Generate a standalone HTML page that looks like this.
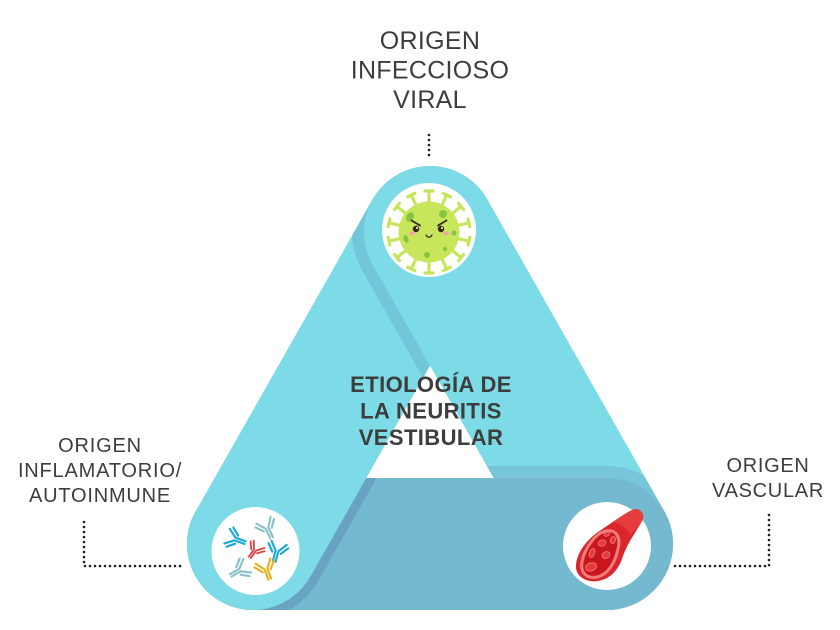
<!DOCTYPE html>
<html>
<head>
<meta charset="utf-8">
<style>
  html,body{margin:0;padding:0;background:#ffffff;}
  svg{display:block;}
</style>
</head>
<body>
<svg width="840" height="630" viewBox="0 0 840 630" xmlns="http://www.w3.org/2000/svg">
  <defs>
    <clipPath id="cB">
      <rect x="253" y="478" width="354" height="132"/>
      <circle cx="253" cy="544" r="66"/>
      <circle cx="607" cy="544" r="66"/>
    </clipPath>
    <clipPath id="cL">
      <polygon points="310.4,576.6 487.4,264.6 372.6,199.4 195.6,511.4"/>
      <circle cx="430" cy="232" r="66"/>
      <circle cx="253" cy="544" r="66"/>
    </clipPath>
    <clipPath id="cR">
      <polygon points="487.4,199.4 664.4,511.4 549.6,576.6 372.6,264.6"/>
      <circle cx="430" cy="232" r="66"/>
      <circle cx="607" cy="544" r="66"/>
    </clipPath>
    <clipPath id="cRight">
      <rect x="445" y="0" width="400" height="630"/>
    </clipPath>
  </defs>

  <!-- bottom band -->
  <line x1="253" y1="544" x2="607" y2="544" stroke="#74b9d0" stroke-width="132" stroke-linecap="round"/>
  <!-- shadow of left band on bottom band -->
  <g clip-path="url(#cB)">
    <line x1="253" y1="544" x2="430" y2="232" stroke="#6aa2c2" stroke-width="150" stroke-linecap="round"/>
  </g>
  <!-- left band -->
  <line x1="253" y1="544" x2="430" y2="232" stroke="#7ddbe8" stroke-width="132" stroke-linecap="round"/>
  <!-- shadow of right band on left band -->
  <g clip-path="url(#cL)">
    <line x1="430" y1="232" x2="607" y2="544" stroke="#72c6da" stroke-width="156" stroke-linecap="round"/>
  </g>
  <!-- right band -->
  <line x1="430" y1="232" x2="607" y2="544" stroke="#7ddbe8" stroke-width="132" stroke-linecap="round"/>
  <!-- bottom band over right band at bottom-right -->
  <g clip-path="url(#cRight)">
    <g clip-path="url(#cR)">
      <line x1="253" y1="544" x2="607" y2="544" stroke="#78c5d9" stroke-width="156" stroke-linecap="round"/>
    </g>
    <line x1="253" y1="544" x2="607" y2="544" stroke="#74b9d0" stroke-width="132" stroke-linecap="round"/>
  </g>

  <!-- node circles -->
  <circle cx="429" cy="230" r="47" fill="#ffffff"/>
  <circle cx="255.5" cy="551" r="44" fill="#ffffff"/>
  <circle cx="607" cy="546" r="44" fill="#ffffff"/>

  <!-- virus -->
  <g stroke="#c6e55a" stroke-width="3.2" stroke-linecap="round" fill="none">
    <g transform="rotate(0 429 232)"><line x1="429" y1="206" x2="429" y2="191"/><line x1="425" y1="191" x2="433" y2="191"/></g>
    <g transform="rotate(25.714 429 232)"><line x1="429" y1="206" x2="429" y2="191"/><line x1="425" y1="191" x2="433" y2="191"/></g>
    <g transform="rotate(51.43 429 232)"><line x1="429" y1="206" x2="429" y2="191"/><line x1="425" y1="191" x2="433" y2="191"/></g>
    <g transform="rotate(77.14 429 232)"><line x1="429" y1="206" x2="429" y2="191"/><line x1="425" y1="191" x2="433" y2="191"/></g>
    <g transform="rotate(102.86 429 232)"><line x1="429" y1="206" x2="429" y2="191"/><line x1="425" y1="191" x2="433" y2="191"/></g>
    <g transform="rotate(128.57 429 232)"><line x1="429" y1="206" x2="429" y2="191"/><line x1="425" y1="191" x2="433" y2="191"/></g>
    <g transform="rotate(154.29 429 232)"><line x1="429" y1="206" x2="429" y2="191"/><line x1="425" y1="191" x2="433" y2="191"/></g>
    <g transform="rotate(180 429 232)"><line x1="429" y1="206" x2="429" y2="191"/><line x1="425" y1="191" x2="433" y2="191"/></g>
    <g transform="rotate(205.71 429 232)"><line x1="429" y1="206" x2="429" y2="191"/><line x1="425" y1="191" x2="433" y2="191"/></g>
    <g transform="rotate(231.43 429 232)"><line x1="429" y1="206" x2="429" y2="191"/><line x1="425" y1="191" x2="433" y2="191"/></g>
    <g transform="rotate(257.14 429 232)"><line x1="429" y1="206" x2="429" y2="191"/><line x1="425" y1="191" x2="433" y2="191"/></g>
    <g transform="rotate(282.86 429 232)"><line x1="429" y1="206" x2="429" y2="191"/><line x1="425" y1="191" x2="433" y2="191"/></g>
    <g transform="rotate(308.57 429 232)"><line x1="429" y1="206" x2="429" y2="191"/><line x1="425" y1="191" x2="433" y2="191"/></g>
    <g transform="rotate(334.29 429 232)"><line x1="429" y1="206" x2="429" y2="191"/><line x1="425" y1="191" x2="433" y2="191"/></g>
  </g>
  <circle cx="429" cy="232" r="30.5" fill="#c8e65b"/>
  <g fill="#86c443">
    <ellipse cx="410" cy="217" rx="3.5" ry="5" transform="rotate(30 410 217)"/>
    <circle cx="443" cy="214" r="4"/>
    <ellipse cx="406" cy="239" rx="2.5" ry="4" transform="rotate(-20 406 239)"/>
    <circle cx="454" cy="233" r="2.5"/>
    <circle cx="445" cy="249" r="2"/>
    <circle cx="427" cy="255" r="3"/>
  </g>
  <g>
    <ellipse cx="412" cy="233.5" rx="3" ry="2" fill="#f4a3a3"/>
    <ellipse cx="446" cy="233.5" rx="3" ry="2" fill="#f4a3a3"/>
    <circle cx="416" cy="229" r="3.2" fill="#3a2415"/>
    <circle cx="441" cy="229" r="3.2" fill="#3a2415"/>
    <circle cx="417" cy="228" r="1" fill="#ffffff"/>
    <circle cx="442" cy="228" r="1" fill="#ffffff"/>
    <path d="M411.5,220.5 L420,225.5 M446.5,220.5 L438,225.5" stroke="#3a2415" stroke-width="1.8" stroke-linecap="round" fill="none"/>
    <path d="M426,235 Q429,239.5 432,235" stroke="#3a2415" stroke-width="1.3" fill="none" stroke-linecap="round"/>
  </g>

  <!-- antibodies -->
  <g fill="none" stroke-width="1.8" stroke-linecap="round">
    <g transform="translate(235,539) rotate(-70) scale(1.2)" stroke="#1ba9d9"><path d="M-1.2,9 L-1.2,0 L-6.5,-7 M1.2,9 L1.2,0 L6.5,-7 M-3.6,1.5 L-8.5,-4.5 M3.6,1.5 L8.5,-4.5"/></g>
    <g transform="translate(267,528) rotate(-25) scale(1.2)" stroke="#8cc1c7"><path d="M-1.2,9 L-1.2,0 L-6.5,-7 M1.2,9 L1.2,0 L6.5,-7 M-3.6,1.5 L-8.5,-4.5 M3.6,1.5 L8.5,-4.5"/></g>
    <g transform="translate(255,550) rotate(35) scale(1.0)" stroke="#e2403f"><path d="M-1.2,9 L-1.2,0 L-6.5,-7 M1.2,9 L1.2,0 L6.5,-7 M-3.6,1.5 L-8.5,-4.5 M3.6,1.5 L8.5,-4.5"/></g>
    <g transform="translate(277,551) rotate(15) scale(1.2)" stroke="#1ba9d9"><path d="M-1.2,9 L-1.2,0 L-6.5,-7 M1.2,9 L1.2,0 L6.5,-7 M-3.6,1.5 L-8.5,-4.5 M3.6,1.5 L8.5,-4.5"/></g>
    <g transform="translate(240,570) rotate(60) scale(1.2)" stroke="#8cc1c7"><path d="M-1.2,9 L-1.2,0 L-6.5,-7 M1.2,9 L1.2,0 L6.5,-7 M-3.6,1.5 L-8.5,-4.5 M3.6,1.5 L8.5,-4.5"/></g>
    <g transform="translate(266,569) rotate(-20) scale(1.2)" stroke="#e6b21e"><path d="M-1.2,9 L-1.2,0 L-6.5,-7 M1.2,9 L1.2,0 L6.5,-7 M-3.6,1.5 L-8.5,-4.5 M3.6,1.5 L8.5,-4.5"/></g>
  </g>

  <!-- blood vessel -->
  <g>
    <path d="M632,510 C639,507 646,513 642,521 C636,532 628,542 623,556 C619,569 611,579 598,581 C586,583 575,576 576,565 C577,552 587,540 598,532 C610,524 624,514 632,510 Z" fill="#d8262c"/>
    <path d="M632,510 C639,507 646,513 642,521 C638,527 634,531 630,535 C627,528 620,523 613,522 C620,517 626,513 632,510 Z" fill="#e53c3c"/>
    <path d="M606,531 C616,529 621,537 618,549 C615,562 609,574 597,577 C587,579 580,573 582,562 C584,550 595,533 606,531 Z" fill="#c9161e" stroke="#f27c7c" stroke-width="3"/>
    <g fill="#e23a3a" stroke="#f27070" stroke-width="1">
      <ellipse cx="607" cy="534" rx="3" ry="2" transform="rotate(-30 607 534)"/>
      <ellipse cx="613" cy="540" rx="2.5" ry="3.5" transform="rotate(20 613 540)"/>
      <ellipse cx="602" cy="543" rx="4" ry="3" transform="rotate(-20 602 543)"/>
      <ellipse cx="592" cy="553" rx="2.5" ry="4.5" transform="rotate(20 592 553)"/>
      <ellipse cx="606" cy="555" rx="4" ry="3.2" transform="rotate(-30 606 555)"/>
      <ellipse cx="591" cy="567" rx="5.5" ry="4" transform="rotate(-20 591 567)"/>
    </g>
  </g>

  <!-- dotted connectors -->
  <g stroke="#1e1e1e" stroke-width="2.6" stroke-dasharray="0 5" stroke-linecap="round" fill="none">
    <path d="M429,135 V160"/>
    <path d="M84,522 V566 H181"/>
    <path d="M769,515 V566 H672"/>
  </g>

  <!-- labels -->
  <g font-family="'Liberation Sans', Arial, sans-serif" fill="#3d3d3d" text-anchor="middle">
    <text x="430" y="49" font-size="25" letter-spacing="0.3">ORIGEN</text>
    <text x="430" y="78.5" font-size="25" letter-spacing="0.3">INFECCIOSO</text>
    <text x="430" y="108" font-size="25" letter-spacing="0.3">VIRAL</text>

    <text x="100" y="452" font-size="20" letter-spacing="0.8">ORIGEN</text>
    <text x="100" y="477" font-size="20" letter-spacing="0.8">INFLAMATORIO/</text>
    <text x="100" y="502" font-size="20" letter-spacing="0.8">AUTOINMUNE</text>

    <text x="768" y="472" font-size="20" letter-spacing="0.7">ORIGEN</text>
    <text x="768" y="497" font-size="20" letter-spacing="0.7">VASCULAR</text>

    <text x="431" y="392" font-size="22" font-weight="bold" letter-spacing="0.4">ETIOLOGÍA DE</text>
    <text x="431" y="418.5" font-size="22" font-weight="bold" letter-spacing="0.4">LA NEURITIS</text>
    <text x="431" y="445" font-size="22" font-weight="bold" letter-spacing="0.4">VESTIBULAR</text>
  </g>
</svg>
</body>
</html>
